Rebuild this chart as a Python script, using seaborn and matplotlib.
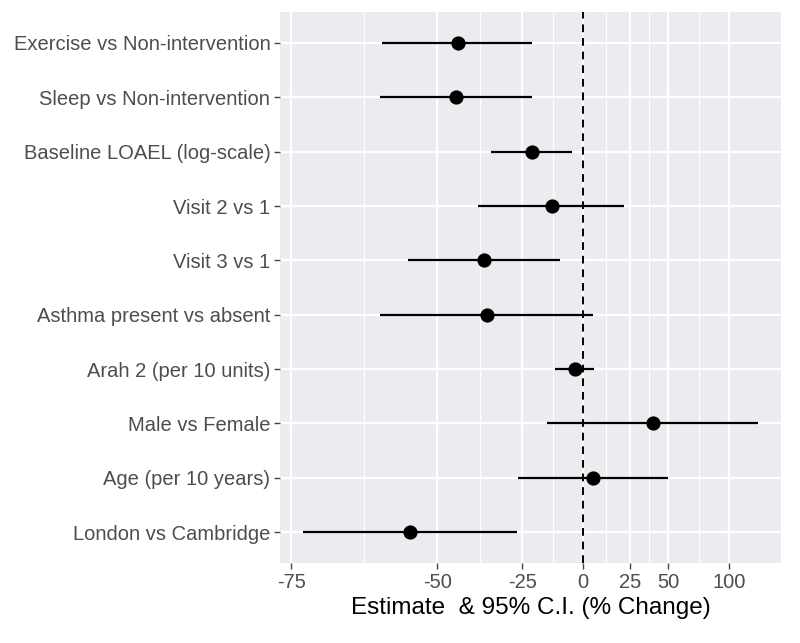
import numpy as np
import pandas as pd
import matplotlib
matplotlib.use("Agg")
import matplotlib.pyplot as plt
import seaborn as sns

categories = ["Exercise vs Non-intervention", "Sleep vs Non-intervention",
              "Baseline LOAEL (log-scale)", "Visit 2 vs 1", "Visit 3 vs 1",
              "Asthma present vs absent", "Arah 2 (per 10 units)",
              "Male vs Female", "Age (per 10 years)", "London vs Cambridge"]
estimate = [-44.8, -45.3, -21.4, -13.8, -37.5, -36.5, -3.7, 39.2, 4.7, -56.0]
lower = [-61.6, -61.9, -35.4, -39.3, -56.4, -61.9, -12.3, -15.8, -26.7, -73.6]
upper = [-21.6, -21.6, -5.2, 21.5, -10.3, 4.7, 5.4, 129.2, 49.9, -27.0]
x_ticks = [-75, -50, -25, 0, 25, 50, 100]
x_label = "Estimate  & 95% C.I. (% Change)"

df = pd.DataFrame({"term": categories, "est": estimate, "lo": lower, "hi": upper})

sns.set_theme(style="darkgrid")
plt.rcParams["font.family"] = ["Liberation Sans", "DejaVu Sans"]

fig = plt.figure(figsize=(8.0, 6.43), dpi=100)
ax = fig.add_axes([0.35, 0.1244, 0.626, 0.8569])
ax.set_facecolor("#EDEBEF")


def fwd(p):
    p = np.asarray(p, dtype=float)
    with np.errstate(invalid="ignore", divide="ignore"):
        return np.log1p(p / 100.0)


def inv(t):
    t = np.asarray(t, dtype=float)
    return (np.exp(t) - 1.0) * 100.0


ax.set_xscale("function", functions=(fwd, inv))

ax.hlines(y=df["term"], xmin=df["lo"], xmax=df["hi"], color="black", lw=1.6, zorder=3)
sns.scatterplot(data=df, x="est", y="term", ax=ax, color="black", s=105,
                marker="o", edgecolor="black", linewidth=0, zorder=4)
ax.axvline(0, color="black", ls=(0, (4, 3)), lw=1.4, zorder=2)

ax.set_xlim(-76.3, 156)
ax.set_ylim(len(categories) - 0.43, -0.57)
ax.set_xticks(x_ticks)
ax.set_xticklabels([str(v) for v in x_ticks])
tt = fwd(x_ticks)
minor = inv((tt[:-1] + tt[1:]) / 2)
ax.set_xticks(list(minor), minor=True)
ax.grid(which="major", color="white", lw=1.6)
ax.grid(which="minor", axis="x", color="white", lw=0.8)
ax.tick_params(which="minor", length=0)
ax.tick_params(which="major", length=4, width=1, color="#444444",
               labelsize=14.5, labelcolor="#4D4D4D", pad=3, bottom=True, left=True)
for s in ax.spines.values():
    s.set_visible(False)

ax.set_xlabel(x_label, fontsize=17.5, color="black", labelpad=4)
ax.set_ylabel("")

fig.savefig("out.png", dpi=100, facecolor="white")
